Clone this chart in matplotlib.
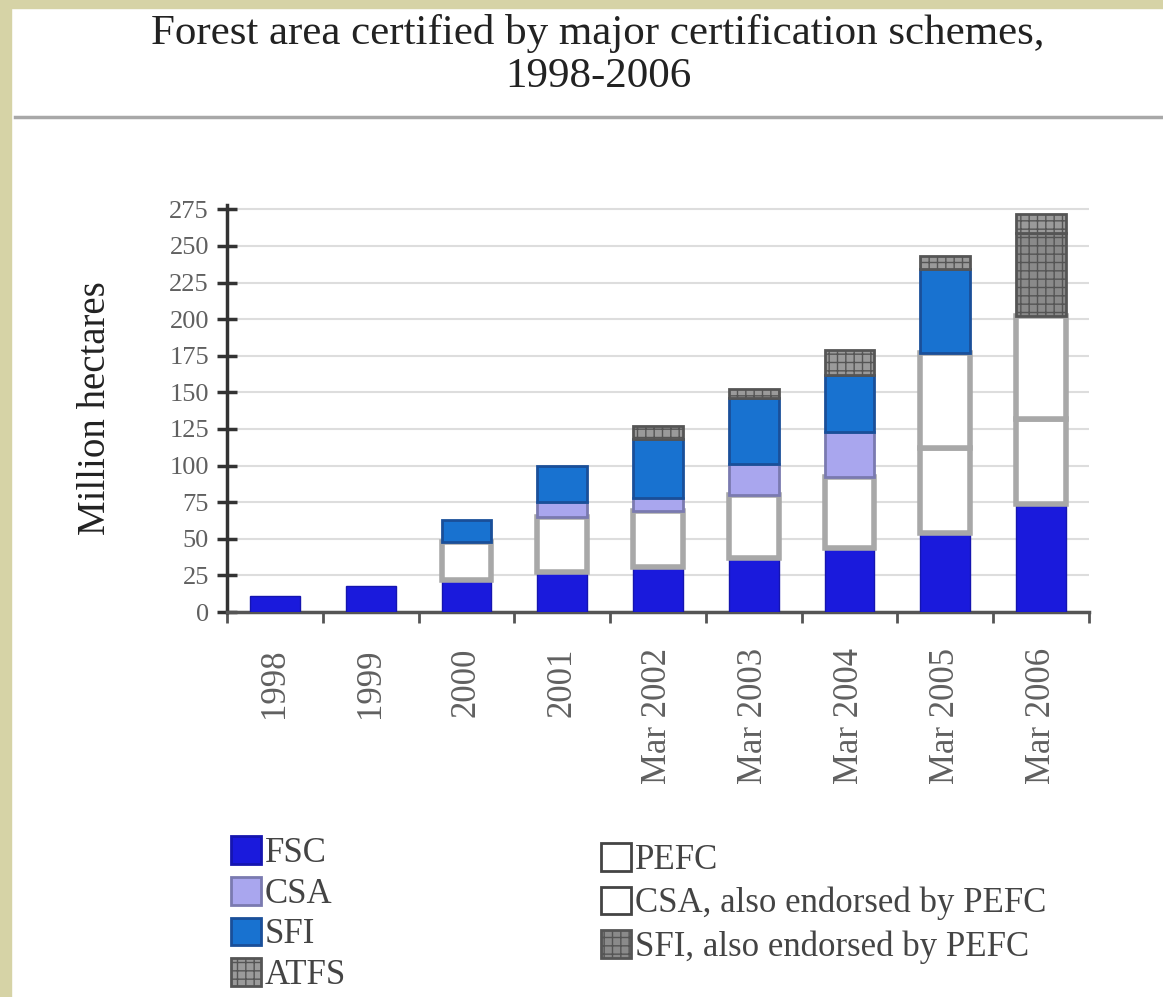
import matplotlib
matplotlib.use("Agg")
import matplotlib.pyplot as plt
from matplotlib.patches import Rectangle, Patch
from matplotlib.lines import Line2D
import numpy as np

plt.rcParams['font.family'] = ['Liberation Serif', 'DejaVu Serif']
plt.rcParams['hatch.color'] = '#555555'

years = ["1998", "1999", "2000", "2001", "Mar 2002", "Mar 2003", "Mar 2004", "Mar 2005", "Mar 2006"]
fsc      = [11, 18, 22, 27, 31, 37, 44, 54, 74]
pefc     = [0, 0, 26, 38, 38, 43, 48, 58, 58]
csa      = [0, 0, 0, 10, 9, 21, 31, 0, 0]
csa_pefc = [0, 0, 0, 0, 0, 0, 0, 65, 70]
sfi      = [0, 0, 15, 25, 40, 45, 39, 57, 0]
sfi_pefc = [0, 0, 0, 0, 0, 0, 0, 0, 57]
atfs     = [0, 0, 0, 0, 9, 6, 17, 9, 13]
yticks = [0, 25, 50, 75, 100, 125, 150, 175, 200, 225, 250, 275]

W, H = 1163, 997
fig = plt.figure(figsize=(W/100, H/100), dpi=100, facecolor='white')

# beige frame strips
fig.add_artist(Rectangle((0, 0), 11/W, 1, transform=fig.transFigure, color='#d6d3a6', zorder=0))
fig.add_artist(Rectangle((0, 1-8/H), 1, 8/H, transform=fig.transFigure, color='#d6d3a6', zorder=0))

fig.text(598/W, 1-55/H, "Forest area certified by major certification schemes,\n1998-2006",
         ha='center', va='center', fontsize=31, color='#222222', linespacing=1.15)
fig.add_artist(Line2D([15/W, 1], [1-117/H, 1-117/H], transform=fig.transFigure,
                      color='#a8a8a8', lw=2.5))

ax = fig.add_axes([227/W, 1-612/H, (1089-227)/W, (612-205)/H])
ax.set_facecolor('white')
x = np.arange(len(years))
bw = 0.52

series = [
    ("FSC", fsc, dict(color='#1a1adc', edgecolor='#1515b0', lw=1)),
    ("PEFC", pefc, dict(color='white', edgecolor='#a8a8a8', lw=4)),
    ("CSA", csa, dict(color='#a9a6ee', edgecolor='#7a7ab0', lw=2)),
    ("CSA, also endorsed by PEFC", csa_pefc, dict(color='white', edgecolor='#a8a8a8', lw=4)),
    ("SFI", sfi, dict(color='#1872d0', edgecolor='#1a4f99', lw=2)),
    ("SFI, also endorsed by PEFC", sfi_pefc, dict(color='#8a8a8a', edgecolor='#555555', lw=2, hatch='++')),
    ("ATFS", atfs, dict(color='#9a9a9a', edgecolor='#555555', lw=2, hatch='++')),
]

bottom = np.zeros(len(years))
for name, vals, st in series:
    vals = np.array(vals, dtype=float)
    m = vals > 0
    ax.bar(x[m], vals[m], bw, bottom=bottom[m], color=st['color'], edgecolor=st['edgecolor'],
           linewidth=st['lw'], hatch=st.get('hatch'), zorder=3)
    bottom += vals

ax.set_xlim(-0.5, 8.5)
ax.set_ylim(0, 278)
ax.set_yticks(yticks)
ax.set_yticklabels([str(v) for v in yticks], fontsize=19, color='#606060')
ax.yaxis.grid(True, color='#dddddd', lw=1.5, zorder=0)
ax.set_axisbelow(True)
for s in ['top', 'right']:
    ax.spines[s].set_visible(False)
ax.spines['left'].set_color('#333333')
ax.spines['left'].set_linewidth(2.5)
ax.spines['bottom'].set_color('#555555')
ax.spines['bottom'].set_linewidth(2.5)
ax.tick_params(axis='y', direction='inout', length=14, width=2.5, color='#333333', pad=6)
ax.set_xticks(x)
ax.set_xticklabels(years, rotation=90, fontsize=25, color='#606060', va='top', ha='center')
ax.set_xticks(np.arange(-0.5, 9, 1), minor=True)
ax.tick_params(axis='x', which='major', length=0, pad=26)
ax.tick_params(axis='x', which='minor', direction='out', length=8, width=2, color='#555555')
ax.set_ylabel("Million hectares", fontsize=28, color='#222222', labelpad=40)

def mk(name):
    _, _, st = [s for s in series if s[0] == name][0]
    edge = st['edgecolor'] if st['color'] != 'white' else '#444444'
    return Patch(facecolor=st['color'], edgecolor=edge, lw=2, hatch=st.get('hatch'))

left = ["FSC", "CSA", "SFI", "ATFS"]
right = ["PEFC", "CSA, also endorsed by PEFC", "SFI, also endorsed by PEFC"]
common = dict(frameon=False, fontsize=25, handlelength=0.85, handleheight=0.85,
              handletextpad=0.12, borderpad=0, borderaxespad=0,
              labelcolor='#444444')
fig.legend([mk(n) for n in left], left, loc='upper left', labelspacing=0.2,
           bbox_to_anchor=(231/W, 1-836/H), **common)
fig.legend([mk(n) for n in right], right, loc='upper left', labelspacing=0.28,
           bbox_to_anchor=(601/W, 1-843/H), **common)

fig.savefig("out.png", dpi=100, facecolor='white')
